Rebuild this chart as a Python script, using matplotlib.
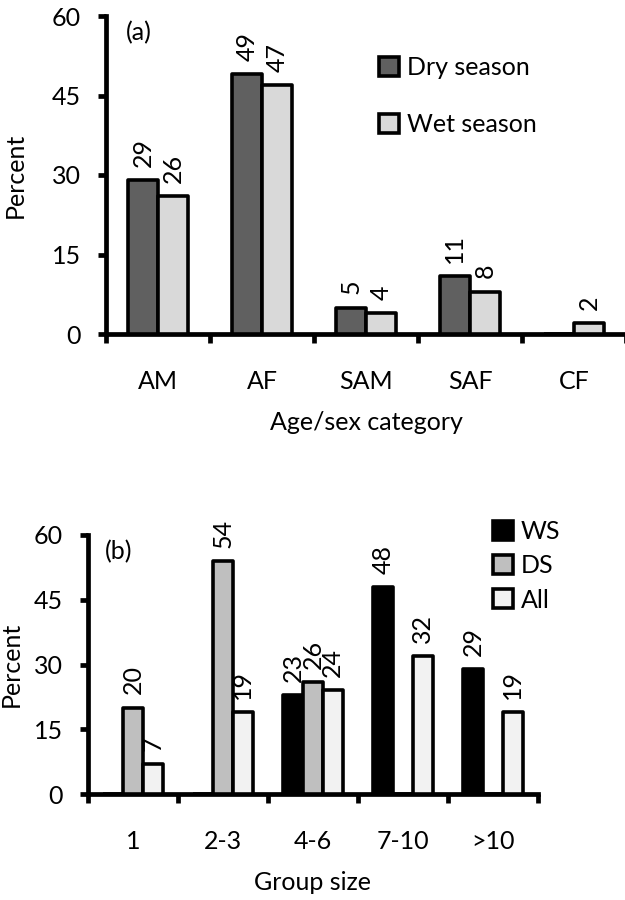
import matplotlib
matplotlib.use("Agg")
import matplotlib.pyplot as plt
from matplotlib.patches import Patch
import numpy as np

plt.rcParams['font.family'] = ['Lato', 'DejaVu Sans']

# ---- data ----
cats_a = ["AM", "AF", "SAM", "SAF", "CF"]
dry = [29, 49, 5, 11, 0]
wet = [26, 47, 4, 8, 2]

cats_b = ["1", "2-3", "4-6", "7-10", ">10"]
ws = [0, 0, 23, 48, 29]
ds = [20, 54, 26, 0, 0]
allv = [7, 19, 24, 32, 19]

yticks = [0, 15, 30, 45, 60]

FS = 18
W, H = 625, 900
fig = plt.figure(figsize=(6.25, 9), dpi=100)

def px_axes(l, r, t, b):
    return fig.add_axes([l / W, 1 - b / H, (r - l) / W, (b - t) / H])

EDGE = 2.6
SPINE = 3.4

def style(ax, cats):
    n = len(cats)
    ax.set_xlim(-0.5, n - 0.5)
    ax.set_ylim(0, 60)
    ax.set_yticks(yticks)
    for s in ["top", "right"]:
        ax.spines[s].set_visible(False)
    for s in ["left", "bottom"]:
        ax.spines[s].set_linewidth(SPINE)
        ax.spines[s].set_capstyle('projecting')
    ax.set_xticks(np.arange(n + 1) - 0.5)
    ax.set_xticklabels([])
    ax.set_xticks(np.arange(n), minor=True)
    ax.set_xticklabels(cats, minor=True, fontsize=FS)
    ax.tick_params(axis='x', which='major', direction='out', length=6.5, width=SPINE)
    ax.tick_params(axis='x', which='minor', length=0, pad=26)
    ax.tick_params(axis='y', direction='out', length=6, width=SPINE, labelsize=FS, pad=12)
    ax.patch.set_visible(False)

def label_bars(ax, bars, vals):
    for b, v in zip(bars, vals):
        if v == 0:
            continue
        ax.annotate(str(v), (b.get_x() + b.get_width() / 2, b.get_height()),
                    xytext=(0, 9.5), textcoords='offset points', rotation=90,
                    ha='center', va='bottom', fontsize=FS)

# ---- panel (a) ----
axa = px_axes(106, 626, 16, 334)
x = np.arange(len(cats_a))
bw = 0.29
cd, cw = '#606060', '#d9d9d9'
b1 = axa.bar(x - bw / 2, dry, bw, color=cd, edgecolor='black', linewidth=EDGE, joinstyle='round', zorder=3)
b2 = axa.bar(x + bw / 2, wet, bw, color=cw, edgecolor='black', linewidth=EDGE, joinstyle='round', zorder=3)
style(axa, cats_a)
label_bars(axa, b1, dry)
label_bars(axa, b2, wet)
axa.set_ylabel("Percent", fontsize=FS)
axa.yaxis.set_label_coords((15 - 106) / 520, 0.5)
axa.set_xlabel("Age/sex category", fontsize=FS)
axa.xaxis.set_label_coords(0.5, (334 - 423) / 318)
axa.xaxis.label.set_va('center')
axa.yaxis.label.set_va('center')
axa.text((126 - 106) / 520, (334 - 33) / 318, "(a)", transform=axa.transAxes,
         fontsize=FS, ha='left', va='center')
h_a = [Patch(facecolor=cd, edgecolor='black', linewidth=EDGE),
       Patch(facecolor=cw, edgecolor='black', linewidth=EDGE)]
axa.legend(h_a, ["Dry season", "Wet season"], loc='upper left',
           bbox_to_anchor=(379 / W, 1 - 56 / H), bbox_transform=fig.transFigure,
           frameon=False, fontsize=FS, handlelength=0.8, handleheight=0.8,
           handletextpad=0.3, labelspacing=1.35, borderpad=0, borderaxespad=0)

# ---- panel (b) ----
axb = px_axes(88, 538, 535, 794)
x = np.arange(len(cats_b))
bw = 0.22
c1, c2, c3 = '#000000', '#bfbfbf', '#f2f2f2'
bb1 = axb.bar(x - bw, ws, bw, color=c1, edgecolor='black', linewidth=EDGE, joinstyle='round', zorder=3)
bb2 = axb.bar(x, ds, bw, color=c2, edgecolor='black', linewidth=EDGE, joinstyle='round', zorder=3)
bb3 = axb.bar(x + bw, allv, bw, color=c3, edgecolor='black', linewidth=EDGE, joinstyle='round', zorder=3)
style(axb, cats_b)
label_bars(axb, bb1, ws)
label_bars(axb, bb2, ds)
label_bars(axb, bb3, allv)
axb.set_ylabel("Percent", fontsize=FS)
axb.yaxis.set_label_coords((11 - 88) / 450, 0.5)
axb.yaxis.label.set_va('center')
axb.set_xlabel("Group size", fontsize=FS)
axb.xaxis.set_label_coords(0.5, (794 - 883) / 259)
axb.xaxis.label.set_va('center')
axb.text((105 - 88) / 450, (794 - 552) / 259, "(b)", transform=axb.transAxes,
         fontsize=FS, ha='left', va='center')
h_b = [Patch(facecolor=c1, edgecolor='black', linewidth=EDGE),
       Patch(facecolor=c2, edgecolor='black', linewidth=EDGE),
       Patch(facecolor=c3, edgecolor='black', linewidth=EDGE)]
axb.legend(h_b, ["WS", "DS", "All"], loc='upper left',
           bbox_to_anchor=(493 / W, 1 - 520 / H), bbox_transform=fig.transFigure,
           frameon=False, fontsize=FS, handlelength=0.8, handleheight=0.8,
           handletextpad=0.3, labelspacing=0.45, borderpad=0, borderaxespad=0)

fig.savefig("out.png", dpi=100)
